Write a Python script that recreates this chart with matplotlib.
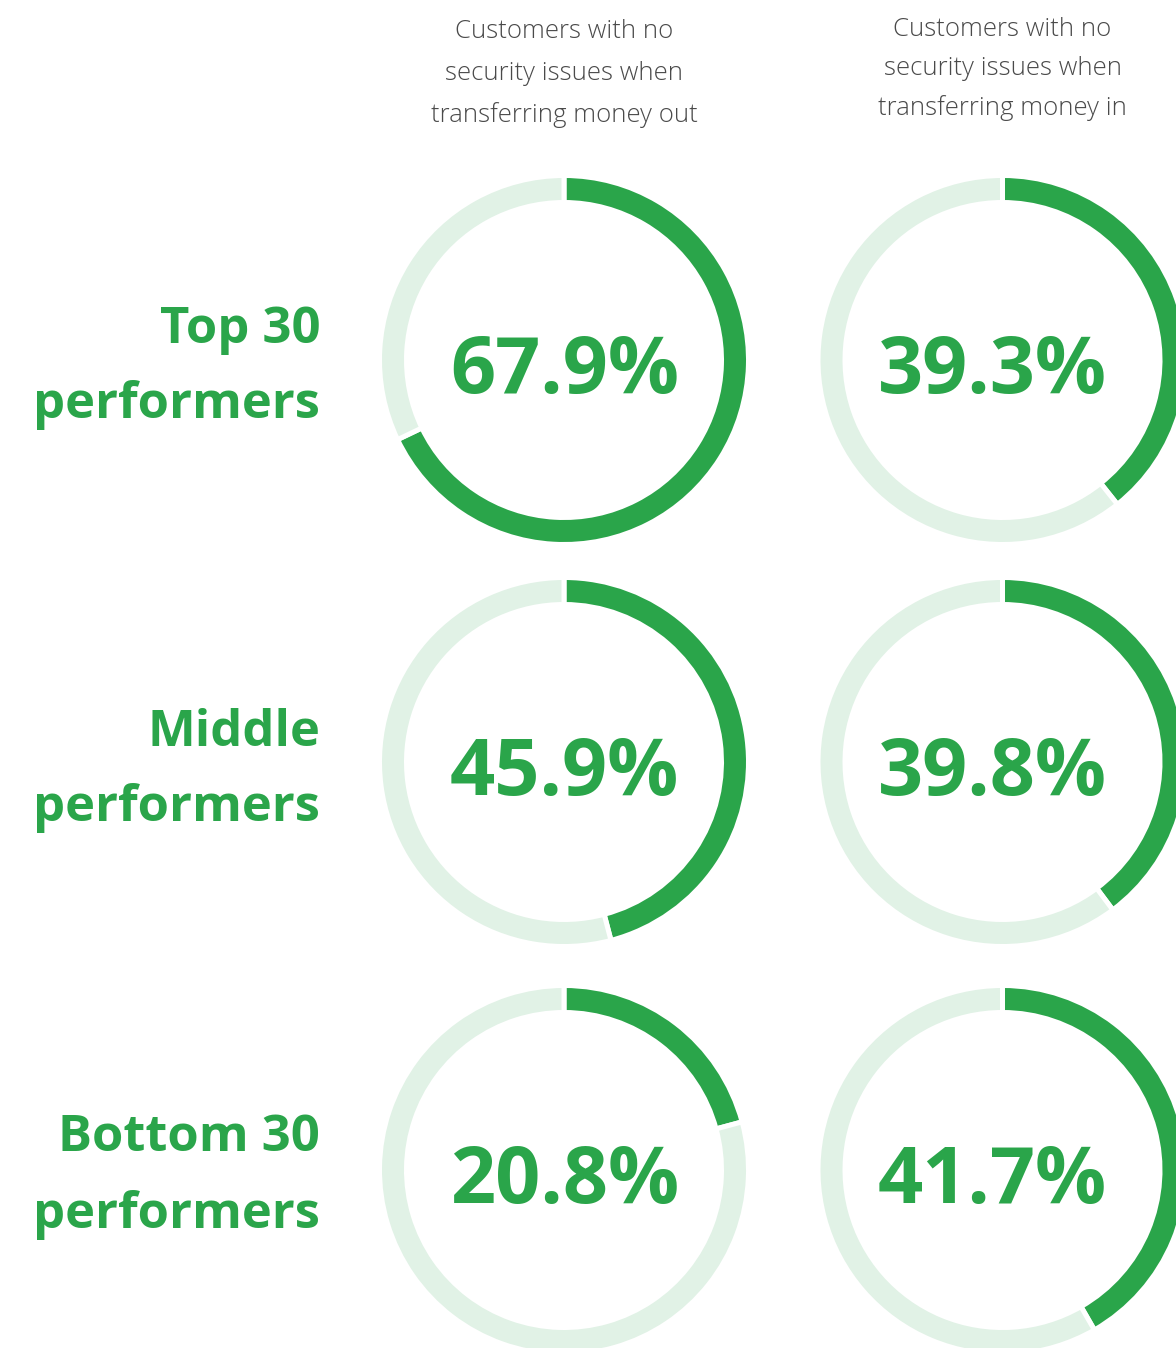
import matplotlib
matplotlib.use("Agg")
import matplotlib.pyplot as plt

# data
col_titles = [
    ["Customers with no", "security issues when", "transferring money out"],
    ["Customers with no", "security issues when", "transferring money in"],
]
row_labels = [
    ["Top 30", "performers"],
    ["Middle", "performers"],
    ["Bottom 30", "performers"],
]
money_out = [67.9, 45.9, 20.8]
money_in = [39.3, 39.8, 41.7]

GREEN = "#2aa54a"
LIGHT = "#e1f2e6"
GREY = "#4a4a4a"

W, H = 1176, 1348
fig = plt.figure(figsize=(W / 100, H / 100), dpi=100)
ax = fig.add_axes([0, 0, 1, 1])

# layout (pixels from top-left)
col_x = [564, 1002.5]
row_y = [360, 762, 1170]
pct_left = [450, 878]
pct_base = [393, 795, 1203]
title_base = [[38, 80, 122], [36, 75, 115]]
label_base = [[343, 418], [746, 821], [1151, 1228]]

lw = 3.6          # white gap between arcs (pt)
r_vis, w_vis = 182, 22
pad = lw * 100 / 72 / 2

for c, vals in enumerate([money_out, money_in]):
    for r, v in enumerate(vals):
        ax.pie([v, 100 - v], center=(col_x[c], H - row_y[r]), radius=r_vis + pad,
               startangle=90, counterclock=False, colors=[GREEN, LIGHT],
               wedgeprops=dict(width=w_vis + 2 * pad, edgecolor="white", linewidth=lw))
        ax.text(pct_left[c], H - pct_base[r], f"{v:.1f}%", ha="left", va="baseline",
                fontsize=57, fontweight="bold", color=GREEN, family="Open Sans")

for c, lines in enumerate(col_titles):
    for i, line in enumerate(lines):
        ax.text(col_x[c], H - title_base[c][i], line, ha="center", va="baseline",
                fontsize=18.5, fontweight="light", color=GREY, family="Open Sans")

for r, lines in enumerate(row_labels):
    for i, line in enumerate(lines):
        ax.text(320, H - label_base[r][i], line, ha="right", va="baseline",
                fontsize=36.5, fontweight="bold", color=GREEN, family="Open Sans")

ax.set_xlim(0, W)
ax.set_ylim(0, H)
ax.set_aspect("equal")
ax.axis("off")

fig.savefig("out.png", dpi=100, facecolor="white")
